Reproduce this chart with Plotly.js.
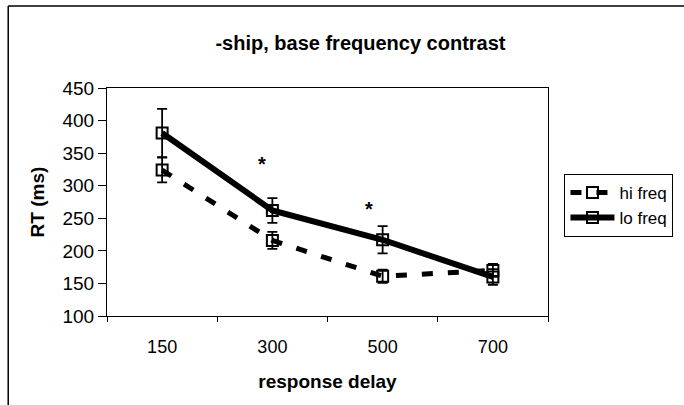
<!DOCTYPE html>
<html>
<head>
<meta charset="utf-8">
<script src="https://cdn.plot.ly/plotly-3.0.1.min.js"></script>
<style>html,body{margin:0;padding:0;background:#fff}#chart{width:684px;height:405px}</style>
</head>
<body>
<div id="chart"></div>
<script>
const delays = ['150', '300', '500', '700'];
const hiFreq = [324, 216, 161, 170];
const hiErr = [19, 13, 10, 10];
const loFreq = [381, 262, 217, 160];
const loErr = [37, 19, 21, 12];
const yTicks = [100, 150, 200, 250, 300, 350, 400, 450];
const sigX = [0.91, 1.88];
const sigY = [337, 268];

const font = 'Liberation Sans, Arial, Helvetica, sans-serif';

const traces = [
  {
    x: delays, y: hiFreq, name: 'hi freq', type: 'scatter', mode: 'lines+markers',
    line: {color: '#000', width: 5, dash: '11px,15px'},
    marker: {symbol: 'square-open', size: 11, color: '#000', line: {width: 2, color: '#000'}},
    error_y: {type: 'data', array: hiErr, visible: true, color: '#000', thickness: 1.8, width: 5}
  },
  {
    x: delays, y: loFreq, name: 'lo freq', type: 'scatter', mode: 'lines+markers',
    line: {color: '#000', width: 6},
    marker: {symbol: 'square-open', size: 11, color: '#000', line: {width: 2, color: '#000'}},
    error_y: {type: 'data', array: loErr, visible: true, color: '#000', thickness: 1.8, width: 5}
  }
];

const annotations = sigX.map((x, i) => ({
  x: x, y: sigY[i], xref: 'x', yref: 'y', text: '<b>*</b>', showarrow: false, yshift: -2,
  font: {family: font, size: 20, color: '#000'}
}));

const layout = {
  width: 684, height: 405,
  margin: {l: 107, r: 135, t: 88, b: 89},
  paper_bgcolor: '#fff', plot_bgcolor: '#fff',
  showlegend: true,
  title: {text: '-ship, base frequency contrast', x: 0.527, xanchor: 'center', y: 0.893, yanchor: 'middle',
          font: {family: font, size: 20, weight: 'bold', color: '#000'}},
  xaxis: {
    type: 'category', range: [-0.5, 3.5], showline: true, linecolor: '#000', linewidth: 1, mirror: true,
    ticks: 'outside', tickson: 'boundaries', ticklen: 5, tickcolor: '#000', showgrid: false, zeroline: false,
    ticklabelstandoff: 14,
    tickfont: {family: font, size: 18, color: '#000'},
    title: {text: 'response delay', standoff: 19, font: {family: font, size: 19, weight: 'bold', color: '#000'}}
  },
  yaxis: {
    range: [100, 450], tickvals: yTicks, ticktext: yTicks.map(String),
    showline: true, linecolor: '#000', linewidth: 1, mirror: true,
    ticks: 'outside', ticklen: 8, tickcolor: '#000', showgrid: false, zeroline: false,
    tickfont: {family: font, size: 19, color: '#000'},
    title: {text: 'RT (ms)', standoff: 12, font: {family: font, size: 19, weight: 'bold', color: '#000'}}
  },
  legend: {
    x: 1.035, xanchor: 'left', y: 0.623, yanchor: 'top',
    bordercolor: '#000', borderwidth: 1, bgcolor: '#fff',
    font: {family: font, size: 17, color: '#000'},
    tracegroupgap: 0, itemwidth: 44
  },
  annotations: annotations,
  shapes: [
    {type: 'line', xref: 'paper', yref: 'paper', x0: -0.224, x1: 1.31, y0: 1.36, y1: 1.36, line: {color: '#000', width: 1.5}},
    {type: 'line', xref: 'paper', yref: 'paper', x0: -0.224, x1: -0.224, y0: 1.36, y1: -0.4, line: {color: '#000', width: 1.5}}
  ]
};

Plotly.newPlot('chart', traces, layout, {staticPlot: true, displayModeBar: false});
</script>
</body>
</html>
